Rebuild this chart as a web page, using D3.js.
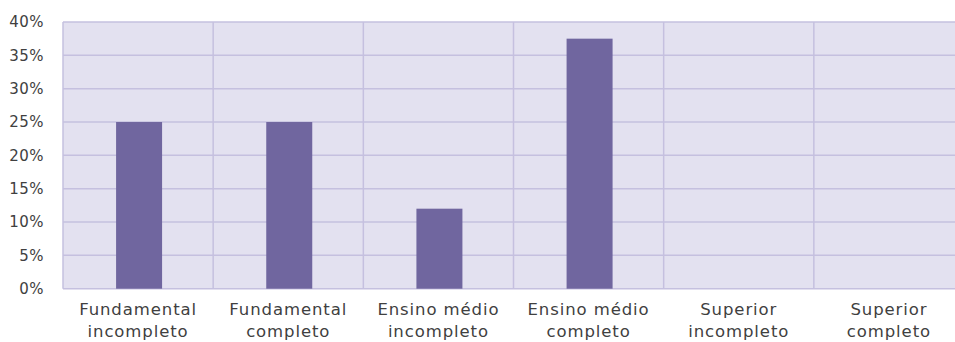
<!DOCTYPE html>
<html>
<head>
<meta charset="utf-8">
<script src="https://cdn.jsdelivr.net/npm/d3@7"></script>
<style>
  body { margin: 0; background: #fff; }
  svg { display: block; font-family: "DejaVu Sans", sans-serif; }
</style>
</head>
<body>
<div id="chart"></div>
<script>
const categories = [
  ["Fundamental", "incompleto"],
  ["Fundamental", "completo"],
  ["Ensino médio", "incompleto"],
  ["Ensino médio", "completo"],
  ["Superior", "incompleto"],
  ["Superior", "completo"]
];
const values = [25, 25, 12, 37.5, 0, 0];
const yTicks = [0, 5, 10, 15, 20, 25, 30, 35, 40];

const width = 955, height = 342;
const margin = {top: 22, left: 63, bottom: 53.3};
const plotW = 901;

const svg = d3.select("#chart").append("svg")
    .attr("width", width)
    .attr("height", height);

const x = d3.scaleBand()
    .domain(d3.range(categories.length))
    .range([margin.left, margin.left + plotW])
    .paddingInner(0).paddingOuter(0);

const y = d3.scaleLinear()
    .domain([0, 40])
    .range([height - margin.bottom, margin.top]);

svg.append("rect")
    .attr("x", margin.left)
    .attr("y", y(40))
    .attr("width", plotW)
    .attr("height", y(0) - y(40))
    .attr("fill", "#e3e1f0");

const grid = svg.append("g")
    .attr("stroke", "#c5c0df")
    .attr("stroke-width", 1.5);

grid.selectAll("line.h")
  .data(yTicks)
  .join("line")
    .attr("class", "h")
    .attr("x1", margin.left)
    .attr("x2", margin.left + plotW)
    .attr("y1", d => y(d))
    .attr("y2", d => y(d));

grid.selectAll("line.v")
  .data(d3.range(categories.length + 1))
  .join("line")
    .attr("class", "v")
    .attr("x1", d => margin.left + d * x.step())
    .attr("x2", d => margin.left + d * x.step())
    .attr("y1", y(40))
    .attr("y2", y(0));

const barW = 46;
svg.append("g")
  .selectAll("rect")
  .data(values)
  .join("rect")
    .attr("x", (d, i) => x(i) + x.bandwidth() / 2 - barW / 2 + 1)
    .attr("y", d => y(d))
    .attr("width", barW)
    .attr("height", d => y(0) - y(d))
    .attr("fill", "#70669f");

svg.append("g")
  .selectAll("text")
  .data(yTicks)
  .join("text")
    .attr("x", 44)
    .attr("y", d => y(d))
    .attr("dy", "0.35em")
    .attr("text-anchor", "end")
    .attr("fill", "#404040")
    .style("font-size", "15px")
    .style("letter-spacing", "0.5px")
    .text(d => d + "%");

const labels = svg.append("g")
  .selectAll("text")
  .data(categories)
  .join("text")
    .attr("text-anchor", "middle")
    .attr("fill", "#404040")
    .style("font-size", "16.5px")
    .style("letter-spacing", "0.9px");

labels.selectAll("tspan")
  .data((d, i) => d.map(t => ({t, i})))
  .join("tspan")
    .attr("x", d => x(d.i) + x.bandwidth() / 2)
    .attr("y", (d, j) => 315 + j * 21.5)
    .text(d => d.t);
</script>
</body>
</html>
